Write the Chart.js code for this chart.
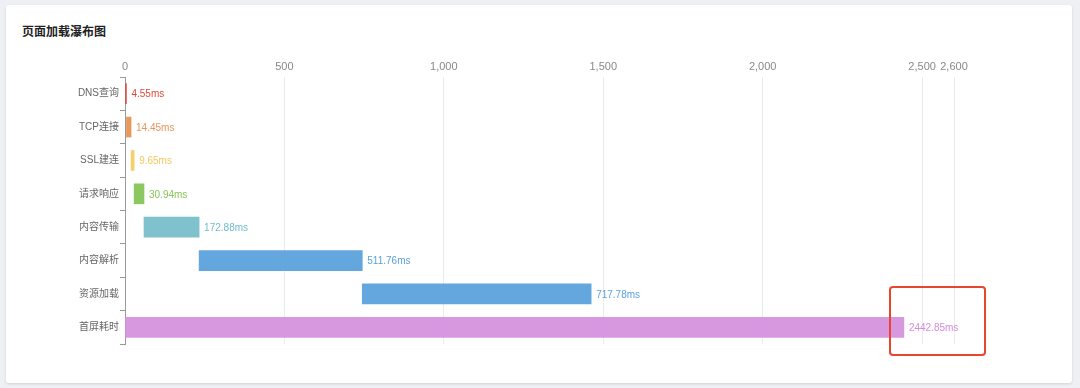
<!DOCTYPE html>
<html>
<head>
<meta charset="utf-8">
<script src="https://cdn.jsdelivr.net/npm/chart.js@4"></script>
<style>
  html, body { margin: 0; padding: 0; }
  body { width: 1080px; height: 388px; background: #eef0f4; position: relative; overflow: hidden;
         font-family: "Liberation Sans", "Noto Sans CJK SC", sans-serif; }
  .card { position: absolute; left: 6px; top: 5px; width: 1066px; height: 378px; background: #fff;
          border-radius: 3px; box-shadow: 0 1px 3px rgba(0,0,0,0.12); }
  .title { position: absolute; left: 22px; top: 22px; font-size: 12px; font-weight: bold; color: #222; }
  #chart { position: absolute; left: 0; top: 0; }
  .mark { position: absolute; left: 889px; top: 286px; width: 93px; height: 66px;
          border: 2px solid #e8452f; border-radius: 4px; }
</style>
</head>
<body>
<div class="card"></div>
<div class="title">页面加载瀑布图</div>
<canvas id="chart" width="1080" height="388"></canvas>
<div class="mark"></div>
<script>
const categories = ["DNS查询", "TCP连接", "SSL建连", "请求响应", "内容传输", "内容解析", "资源加载", "首屏耗时"];
const startTimes = [0, 4.55, 19.0, 28.65, 59.59, 232.47, 744.23, 0];
const durations = [4.55, 14.45, 9.65, 30.94, 172.88, 511.76, 717.78, 2442.85];
const barColors = [
  "rgba(226, 70, 56, 0.95)",
  "rgba(230, 146, 82, 0.95)",
  "rgba(246, 206, 100, 0.95)",
  "rgba(134, 196, 86, 0.95)",
  "rgba(120, 190, 202, 0.95)",
  "rgba(92, 162, 220, 0.95)",
  "rgba(92, 162, 220, 0.95)",
  "rgba(214, 146, 222, 0.95)",
];
const labelColors = ["#e0493c", "#e8955a", "#f2c95e", "#86c456", "#72bccb", "#5ca2dc", "#5ca2dc", "#d58ade"];
const xTicks = [0, 500, 1000, 1500, 2000, 2500, 2600];

const fontFamily = '"Liberation Sans", "Noto Sans CJK SC", sans-serif';

const barLabels = {
  id: "barLabels",
  afterDatasetsDraw(chart) {
    const ctx = chart.ctx;
    const meta = chart.getDatasetMeta(0);
    ctx.save();
    ctx.font = "10px " + fontFamily;
    ctx.textBaseline = "middle";
    ctx.textAlign = "left";
    meta.data.forEach((bar, i) => {
      const end = Math.max(bar.x, bar.base);
      ctx.fillStyle = labelColors[i];
      ctx.fillText(durations[i].toFixed(2) + "ms", end + 5, bar.y + 1);
    });
    ctx.restore();
  },
};

const numberFormat = new Intl.NumberFormat("en-US");

new Chart(document.getElementById("chart"), {
  type: "bar",
  data: {
    labels: categories,
    datasets: [
      {
        data: startTimes.map((s, i) => [s, s + durations[i]]),
        backgroundColor: barColors,
        borderWidth: 0,
        barThickness: 20,
        borderSkipped: false,
      },
    ],
  },
  options: {
    indexAxis: "y",
    responsive: false,
    animation: false,
    layout: { padding: { left: 0, right: 126, top: 0, bottom: 44 } },
    plugins: { legend: { display: false }, tooltip: { enabled: false } },
    scales: {
      x: {
        position: "top",
        min: 0,
        max: 2600,
        afterBuildTicks: (scale) => {
          scale.ticks = xTicks.map((v) => ({ value: v }));
        },
        afterFit: (scale) => {
          scale.height = 77;
        },
        ticks: {
          color: "#888",
          padding: 3,
          font: { size: 11, family: fontFamily },
          maxRotation: 0,
          autoSkip: false,
          callback: (v) => numberFormat.format(v),
        },
        grid: {
          color: (c) => (c.tick && c.tick.value === 0 ? "rgba(0,0,0,0)" : "#e8ebf2"),
          drawTicks: false,
        },
        border: { display: false },
      },
      y: {
        afterFit: (scale) => {
          scale.width = 125;
        },
        ticks: {
          color: "#666",
          padding: 1,
          font: { size: 10, family: fontFamily },
        },
        grid: {
          drawOnChartArea: false,
          drawTicks: true,
          tickLength: 5,
          color: "#999",
          offset: true,
        },
        border: { display: true, color: "#999" },
      },
    },
  },
  plugins: [barLabels],
});
</script>
</body>
</html>
